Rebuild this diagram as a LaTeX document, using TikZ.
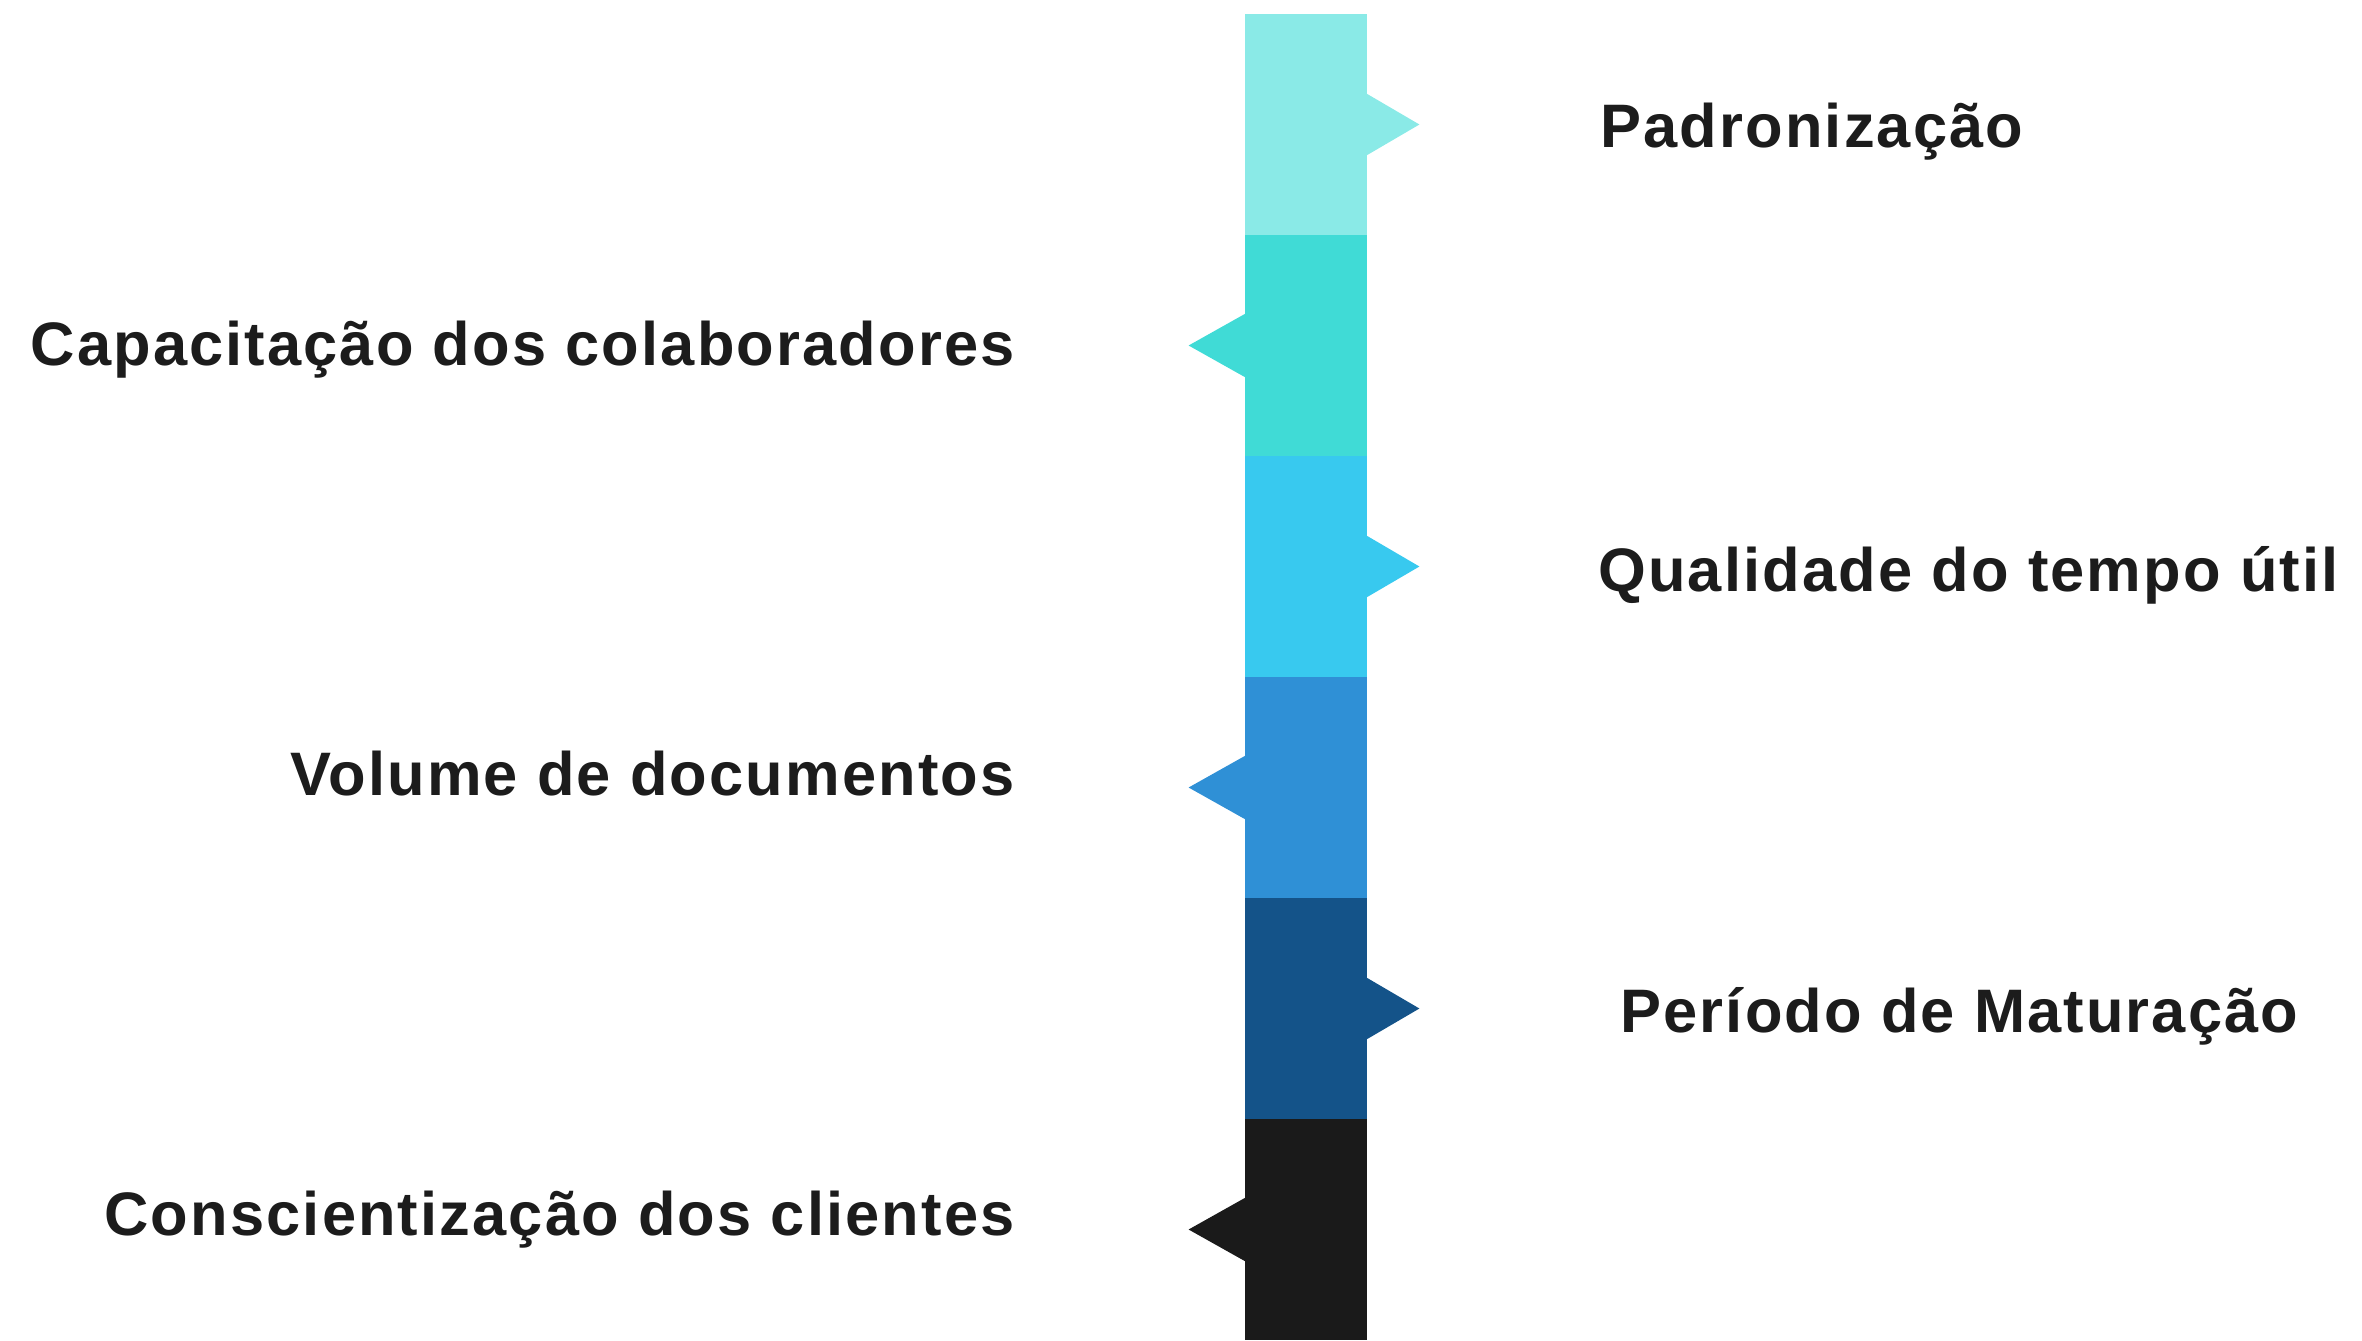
\documentclass[tikz,border=0pt]{standalone}
\usepackage{fontspec}
\setmainfont{Liberation Sans}[LetterSpace=3.5]
\definecolor{cA}{HTML}{8AEAE7}
\definecolor{cB}{HTML}{40DBD6}
\definecolor{cC}{HTML}{38C9EF}
\definecolor{cD}{HTML}{2F90D6}
\definecolor{cE}{HTML}{145389}
\definecolor{cF}{HTML}{1A1A1A}
\definecolor{txt}{HTML}{1C1C1C}
\tikzset{
  seg/.style={rectangle, inner sep=0pt, draw=none, minimum width=61pt, minimum height=110.5pt},
  lbl/.style={inner sep=0pt, text=txt, font=\fontsize{30.7}{36}\selectfont\bfseries},
}
\begin{document}
\begin{tikzpicture}[x=0.5pt,y=-0.5pt]
\useasboundingbox (0,0) rectangle (2362,1340);
% bar segments
\node[seg, fill=cA] (s1) at (1306,124.5) {};
\node[seg, fill=cB] (s2) at (1306,345.5) {};
\node[seg, fill=cC] (s3) at (1306,566.5) {};
\node[seg, fill=cD] (s4) at (1306,787.5) {};
\node[seg, fill=cE] (s5) at (1306,1008.5) {};
\node[seg, fill=cF] (s6) at (1306,1229.5) {};
% pointers
\fill[cA] (s1.east) ++(-1,-31) -- ++(53,31) -- ++(-53,31) -- cycle;
\fill[cB] (s2.west) ++(1,-32) -- ++(-57,32) -- ++(57,32) -- cycle;
\fill[cC] (s3.east) ++(-1,-31) -- ++(53,31) -- ++(-53,31) -- cycle;
\fill[cD] (s4.west) ++(1,-32) -- ++(-57,32) -- ++(57,32) -- cycle;
\fill[cE] (s5.east) ++(-1,-31) -- ++(53,31) -- ++(-53,31) -- cycle;
\fill[cF] (s6.west) ++(1,-32) -- ++(-57,32) -- ++(57,32) -- cycle;
% labels
\node[lbl, anchor=base west] (t1) at (1600,147) {Padronização};
\node[lbl, anchor=base east] (t2) at (1015,365) {Capacitação dos colaboradores};
\node[lbl, anchor=base west] (t3) at (1598,591) {Qualidade do tempo útil};
\node[lbl, anchor=base east] (t4) at (1015,795) {Volume de documentos};
\node[lbl, anchor=base west] (t5) at (1620,1032) {Período de Maturação};
\node[lbl, anchor=base east] (t6) at (1015,1235) {Conscientização dos clientes};
\end{tikzpicture}
\end{document}
